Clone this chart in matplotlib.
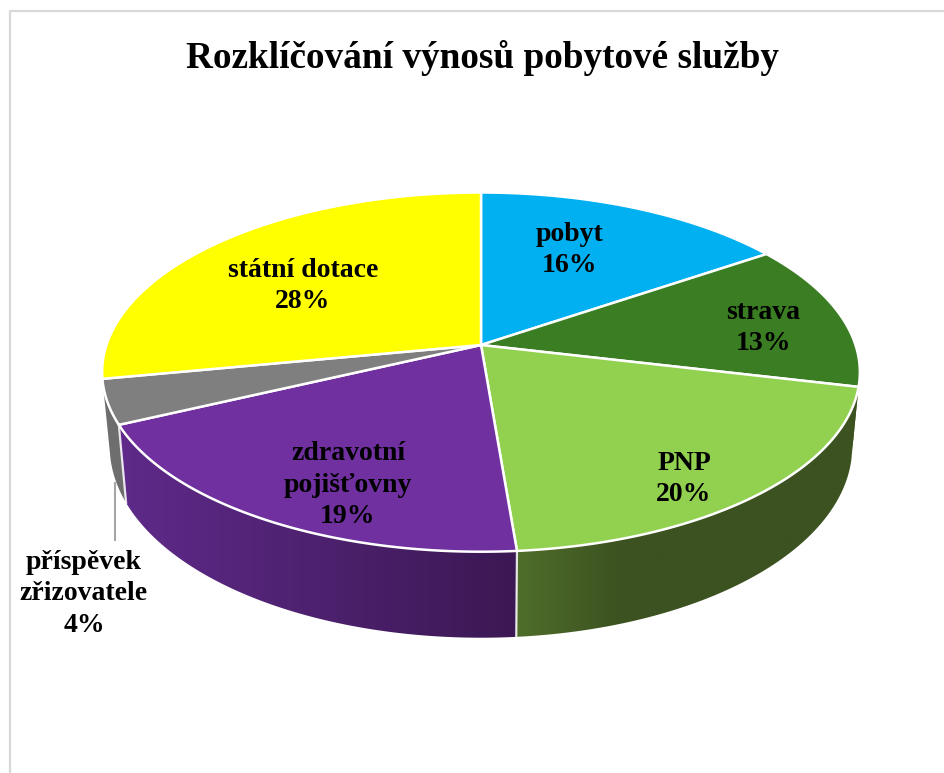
import matplotlib
matplotlib.use('Agg')
import matplotlib.pyplot as plt
import numpy as np
from matplotlib.patches import Polygon

categories = ['pobyt', 'strava', 'PNP', 'zdravotní\npojišťovny', 'příspěvek\nzřizovatele', 'státní dotace']
values = [15.5, 13.2, 20.0, 19.3, 4.0, 28.0]
pct_labels = ['16%', '13%', '20%', '19%', '4%', '28%']
colors = ['#00B0F0', '#3A7D22', '#92D050', '#7030A0', '#7F7F7F', '#FFFF00']
# wall shading, left and right end of each slice's side
wall_left = ['#000000', '#3C5220', '#4F6E2B', '#5F2A8A', '#6E6E6E', '#000000']
wall_right = ['#000000', '#3C5220', '#3C5220', '#3B1853', '#6E6E6E', '#000000']
label_pos = [(570, 249), (763, 327), (684, 478), (348, 484), (84, 593), (303, 285)]

# pie plane seen in perspective
cx, cy = 481, 345
A, B, k = 374.5, 175.5, 0.151


def top_edge(theta):
    u, v = np.sin(theta), np.cos(theta)
    w = 1 + k * v
    return cx + A * u / w, cy - B * v / w


def bottom_edge(theta):
    x, y = top_edge(theta)
    return cx + (x - cx) * 0.98, y + 72 - 14 * np.cos(theta)


def hex_rgb(c):
    return np.array(matplotlib.colors.to_rgb(c))


fig, ax = plt.subplots(figsize=(9.45, 7.73), dpi=100)
ax.set_position([0, 0, 1, 1])
ax.set_xlim(0, 945)
ax.set_ylim(773, 0)
ax.axis('off')

# chart frame, open to the right and bottom
ax.plot([10, 10, 945], [773, 11, 11], color='#D9D9D9', lw=1.6, zorder=1)

edges = np.concatenate([[0], np.cumsum(values)]) / sum(values) * 2 * np.pi

# side walls, only the front half of the pie shows them
for i in [4, 3, 2, 1]:
    t0 = max(edges[i], np.pi / 2 + 0.1)
    t1 = min(edges[i + 1], 3 * np.pi / 2 - 0.1)
    t = np.linspace(t0, t1, 120)
    tx, ty = top_edge(t)
    bx, by = bottom_edge(t)
    pts = np.column_stack([np.r_[tx, bx[::-1]], np.r_[ty, by[::-1]]])
    patch = Polygon(pts, closed=True, fc='none', ec='none', zorder=2)
    ax.add_patch(patch)
    left, right = pts[:, 0].min(), pts[:, 0].max()
    ramp = np.linspace(0, 1, 200)
    if i == 2:
        ramp = np.clip(ramp / 0.3, 0, 1)
    grad = hex_rgb(wall_left[i]) + (hex_rgb(wall_right[i]) - hex_rgb(wall_left[i])) * ramp[:, None]
    im = ax.imshow(grad[None, :, :], extent=(left, right, pts[:, 1].max(), pts[:, 1].min()),
                   aspect='auto', zorder=2, interpolation='bilinear')
    im.set_clip_path(patch)
    if i in (2, 3):
        sx, sy = top_edge(edges[i + 1]), bottom_edge(edges[i + 1])
        ax.plot([sx[0], sy[0]], [sx[1], sy[1]], color='white', lw=1.6, alpha=0.85, zorder=3)
ax.set_xlim(0, 945)
ax.set_ylim(773, 0)

# top face
for i in range(len(values)):
    t = np.linspace(edges[i], edges[i + 1], 150)
    x, y = top_edge(t)
    ax.fill(np.r_[cx, x], np.r_[cy, y], fc=colors[i], ec='white', lw=1.8, joinstyle='round', zorder=4)

# leader line for the small slice
ax.plot([115, 115], [483, 540], color='#A6A6A6', lw=1.5, zorder=5)

for name, pct, pos in zip(categories, pct_labels, label_pos):
    ax.text(pos[0], pos[1] + 1, name + '\n' + pct, ha='center', va='center', family='Liberation Serif',
            fontweight='bold', fontsize=20, linespacing=1.33, color='black', zorder=6)

ax.text(482, 58, 'Rozklíčování výnosů pobytové služby', ha='center', va='center',
        family='Liberation Serif', fontweight='bold', fontsize=26.8, color='black', zorder=6)

fig.savefig('out.png', dpi=100)
